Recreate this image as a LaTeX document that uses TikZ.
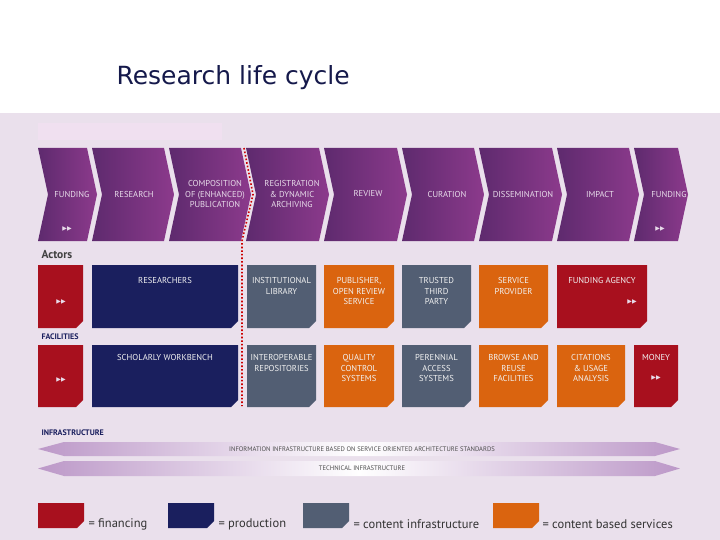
\documentclass[tikz,border=0pt]{standalone}
\usepackage{fontspec}
\setmainfont{PT Sans}
\newfontfamily\titlefont{DejaVu Sans}
\newfontfamily\symfont{DejaVu Sans}
\definecolor{bg}{HTML}{EAE0EC}
\definecolor{cred}{HTML}{A8101E}
\definecolor{cnavy}{HTML}{1A1F5E}
\definecolor{cgrey}{HTML}{525E73}
\definecolor{corange}{HTML}{DA640F}
\definecolor{pdark}{HTML}{5E2A6E}
\definecolor{plight}{HTML}{8C3A8C}
\definecolor{band}{HTML}{BC98C8}
\definecolor{ctxt}{HTML}{E8DCEA}
\newcommand{\chev}[3]{% x1 x2 notch(0/1)
  \shade[left color=pdark,right color=plight]
   (#1,148) -- (#2,148) -- (#2+10,194.5) -- (#2,241) -- (#1,241)
   \ifnum#3=1 -- (#1+10,194.5)\fi -- cycle;}
\newcommand{\cbox}[5]{% x1 y1 x2 y2 colour
  \fill[#5] (#1,#2) -- (#3,#2) -- (#3,#4-7) -- (#3-7,#4) -- (#1,#4) -- cycle;}
\tikzset{
  lab/.style={text=ctxt,font=\fontsize{8.6}{10.5}\selectfont,align=center},
  blab/.style={text=white!90!gray,font=\fontsize{8.6}{10.5}\selectfont,align=center,anchor=north},
  sec/.style={anchor=west,text=cnavy,font=\fontsize{8}{9}\selectfont\bfseries},
  leg/.style={anchor=west,text=black!80,font=\fontsize{12.5}{14}\selectfont},
  arr/.style={text=ctxt,font=\symfont\fontsize{6}{7}\selectfont,inner sep=0pt}
}
\begin{document}
\begin{tikzpicture}[x=1pt,y=-1pt]
\useasboundingbox (0,0) rectangle (720,540);
\fill[white] (0,0) rectangle (720,113);
\fill[bg] (0,113) rectangle (720,540);
\node[anchor=west,text=cnavy!80!black,font=\titlefont\fontsize{25}{30}\selectfont] (title) at (113,78) {Research life cycle};
\fill[violet!12] (38,123) rectangle (222,140);
% chevrons
\chev{38}{87}{1}
\chev{92}{164}{1}
\chev{169}{241}{1}
\chev{246}{319}{1}
\chev{324}{397}{1}
\chev{402}{474}{1}
\chev{479}{552}{1}
\chev{557}{629}{1}
\chev{634}{678}{1}
\node[lab] (c1) at (72,194) {FUNDING};
\node[lab] (c2) at (134,194) {RESEARCH};
\node[lab] (c3) at (215,194) {COMPOSITION\\OF (ENHANCED)\\PUBLICATION};
\node[lab] (c4) at (292,194) {REGISTRATION\\\&~DYNAMIC\\ARCHIVING};
\node[lab] (c5) at (368,194) {REVIEW};
\node[lab] (c6) at (447,194) {CURATION};
\node[lab] (c7) at (523,194) {DISSEMINATION};
\node[lab] (c8) at (600,194) {IMPACT};
\node[lab] (c9) at (669,194) {FUNDING};
\node[arr] (a1) at (67,229) {▶▶};
\node[arr] (a2) at (660,229) {▶▶};
% red dotted divider
\draw[red!80!black,line width=1.6pt,dotted] (244,148) -- (253,194.5) -- (242,241) -- (242,406);
% sections
\node[anchor=west,text=black!75,font=\fontsize{11.5}{13}\selectfont\bfseries] (actors) at (38,255) {Actors};
\node[sec] (fac) at (38,337) {FACILITIES};
\node[sec] (inf) at (38,433) {INFRASTRUCTURE};
% row 1
\cbox{38}{265}{83}{328}{cred}
\cbox{92}{265}{238}{328}{cnavy}
\cbox{247}{265}{316}{328}{cgrey}
\cbox{324}{265}{394}{328}{corange}
\cbox{402}{265}{471}{328}{cgrey}
\cbox{479}{265}{548}{328}{corange}
\cbox{557}{265}{647}{328}{cred}
\node[arr] (r1a) at (61,302) {▶▶};
\node[blab] (r1b) at (165,274) {RESEARCHERS};
\node[blab] (r1c) at (281.5,274) {INSTITUTIONAL\\LIBRARY};
\node[blab] (r1d) at (359,274) {PUBLISHER,\\OPEN REVIEW\\SERVICE};
\node[blab] (r1e) at (436.5,274) {TRUSTED\\THIRD\\PARTY};
\node[blab] (r1f) at (513.5,274) {SERVICE\\PROVIDER};
\node[blab] (r1g) at (602,274) {FUNDING AGENCY};
\node[arr] (r1h) at (632,302) {▶▶};
% row 2
\cbox{38}{345}{83}{407}{cred}
\cbox{92}{345}{238}{407}{cnavy}
\cbox{247}{345}{316}{407}{cgrey}
\cbox{324}{345}{394}{407}{corange}
\cbox{402}{345}{471}{407}{cgrey}
\cbox{479}{345}{548}{407}{corange}
\cbox{557}{345}{625}{407}{corange}
\cbox{634}{345}{678}{407}{cred}
\node[arr] (r2a) at (61,380) {▶▶};
\node[blab] (r2b) at (165,351) {SCHOLARLY WORKBENCH};
\node[blab] (r2c) at (281.5,351) {INTEROPERABLE\\REPOSITORIES};
\node[blab] (r2d) at (359,351) {QUALITY\\CONTROL\\SYSTEMS};
\node[blab] (r2e) at (436.5,351) {PERENNIAL\\ACCESS\\SYSTEMS};
\node[blab] (r2f) at (513.5,351) {BROWSE AND\\REUSE\\FACILITIES};
\node[blab] (r2g) at (591,351) {CITATIONS\\\&~USAGE\\ANALYSIS};
\node[blab] (r2h) at (656,351) {MONEY};
\node[arr] (r2i) at (656,378) {▶▶};
% infrastructure bands
\shade[left color=band,right color=band,middle color=white]
  (38,449) -- (64,442) -- (655,442) -- (680,449) -- (655,456) -- (64,456) -- cycle;
\shade[left color=band,right color=band,middle color=white]
  (38,468.5) -- (64,461) -- (655,461) -- (680,468.5) -- (655,476) -- (64,476) -- cycle;
\node[text=black!70,font=\fontsize{6.6}{7}\selectfont] (b1) at (362,449) {INFORMATION INFRASTRUCTURE BASED ON SERVICE ORIENTED ARCHITECTURE STANDARDS};
\node[text=black!70,font=\fontsize{6.6}{7}\selectfont] (b2) at (362,468.5) {TECHNICAL INFRASTRUCTURE};
% legend
\cbox{38}{503}{84}{528}{cred}
\cbox{168}{503}{214}{528}{cnavy}
\cbox{303}{503}{349}{528}{cgrey}
\cbox{493}{503}{539}{528}{corange}
\node[leg] (l1) at (85,524) {= financing};
\node[leg] (l2) at (215,524) {= production};
\node[leg] (l3) at (350,524) {= content infrastructure};
\node[leg] (l4) at (539,524) {= content based services};
\end{tikzpicture}
\end{document}
